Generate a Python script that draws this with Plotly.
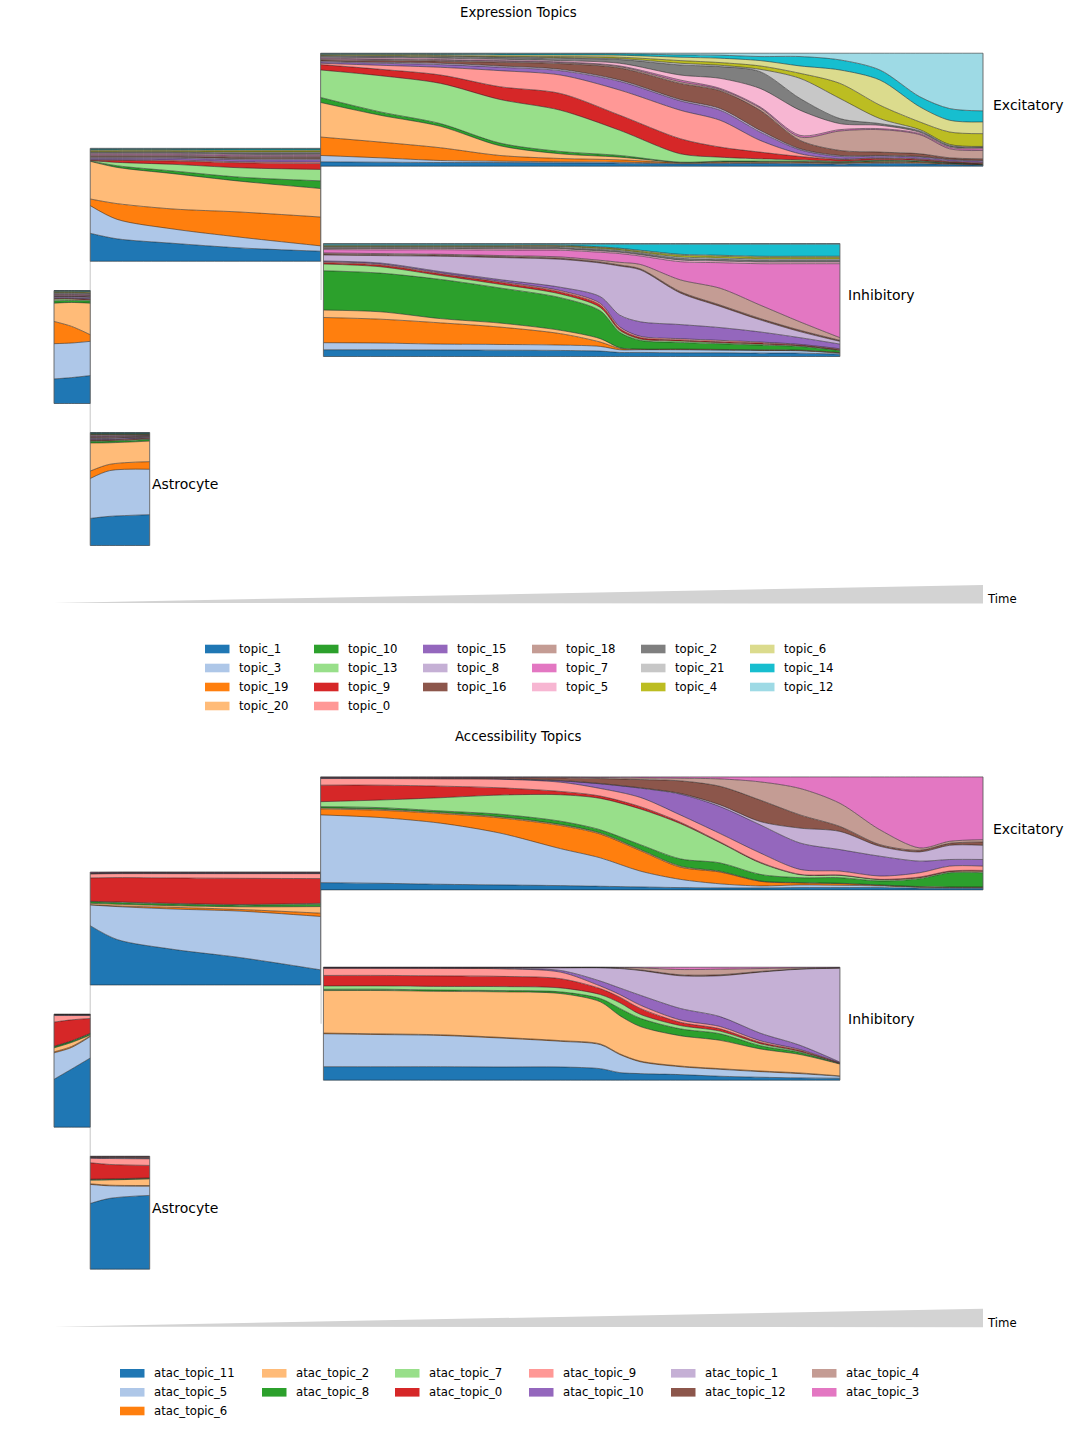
import numpy as np
import plotly.graph_objects as go

FIG_W, FIG_H = 1071, 1430

TAB20 = ["#1f77b4", "#aec7e8", "#ff7f0e", "#ffbb78", "#2ca02c", "#98df8a", "#d62728", "#ff9896",
         "#9467bd", "#c5b0d5", "#8c564b", "#c49c94", "#e377c2", "#f7b6d2", "#7f7f7f", "#c7c7c7",
         "#bcbd22", "#dbdb8d", "#17becf", "#9edae5"]

# ---------------- topics (stacking order, bottom -> top) ----------------
EXPR_TOPICS = ["topic_1", "topic_3", "topic_19", "topic_20", "topic_10", "topic_13", "topic_9",
               "topic_0", "topic_15", "topic_8", "topic_16", "topic_18", "topic_7", "topic_5",
               "topic_2", "topic_21", "topic_4", "topic_6", "topic_14", "topic_12"]
ATAC_TOPICS = ["atac_topic_11", "atac_topic_5", "atac_topic_6", "atac_topic_2", "atac_topic_8",
               "atac_topic_7", "atac_topic_0", "atac_topic_9", "atac_topic_10", "atac_topic_1",
               "atac_topic_12", "atac_topic_4", "atac_topic_3"]

# ---------------- pseudotime sample points per branch ----------------
T_ROOT = [0.000, 0.019, 0.039]
T_TRUNK = [0.039, 0.068, 0.128, 0.200, 0.287]
T_ASTRO = [0.039, 0.060, 0.103]
T_EXC_EXPR = [0.287, 0.351, 0.416, 0.480, 0.545, 0.609, 0.674, 0.717, 0.760, 0.803, 0.846,
              0.889, 0.932, 0.964, 1.000]
T_INH = [0.290, 0.351, 0.416, 0.480, 0.545, 0.588, 0.609, 0.631, 0.674, 0.717, 0.760, 0.803, 0.846]
T_EXC_ATAC = [0.287, 0.351, 0.416, 0.480, 0.545, 0.588, 0.631, 0.674, 0.717, 0.760, 0.803,
              0.846, 0.889, 0.932, 0.964, 1.000]

# ---------------- expression topic weights (rows follow EXPR_TOPICS) ----------------
EXPR_ROOT = [
    [74, 78, 84], [106, 104, 103], [67, 50, 20], [55, 72, 95], [7, 6, 7], [5, 4, 3], [2, 2, 2],
    [1, 1, 1], [3, 3, 4], [2, 2, 2], [2, 2, 2], [2, 2, 2], [2, 2, 2], [2, 2, 2],
    [2, 2, 2], [2, 2, 2], [2, 2, 2], [2, 2, 2], [1, 1, 2], [1, 1, 1],
]
EXPR_TRUNK = [
    [84, 67, 54, 40, 30], [83, 58, 43, 32, 16], [20, 47, 60, 75, 86], [113, 108, 106, 92, 85],
    [1, 5, 8, 12, 23], [1, 10, 20, 28, 34], [1, 6, 10, 15, 18], [2, 2, 3, 3, 4],
    [4, 4, 5, 6, 7], [3, 3, 3, 3, 3], [3, 3, 3, 4, 4], [3, 3, 3, 3, 3], [3, 3, 3, 3, 3],
    [3, 3, 3, 3, 3], [3, 3, 3, 4, 4], [2, 2, 2, 3, 3], [3, 3, 3, 3, 3], [3, 3, 3, 3, 3],
    [2, 2, 2, 3, 3], [2, 2, 2, 2, 2],
]
EXPR_ASTRO = [
    [80, 88, 93], [118, 138, 137], [22, 19, 23], [83, 65, 62], [5, 5, 5], [2, 2, 2], [2, 2, 2],
    [1, 1, 1], [3, 3, 2], [2, 2, 1], [2, 2, 2], [2, 2, 1], [2, 2, 1], [2, 2, 1],
    [2, 2, 2], [1, 1, 1], [1, 1, 1], [1, 1, 1], [2, 2, 2], [1, 1, 1],
]
EXPR_EXC = [
    [13, 12, 11, 11, 10, 9, 7, 7.5, 8, 7, 6, 8, 7, 5, 3],
    [19, 13, 6, 4, 3, 3, 2, 2, 2, 2.5, 2.5, 3, 2.5, 2, 1],
    [55, 47, 38, 17, 10, 7, 1.5, 2.5, 2, 2, 1.5, 2, 2, 1, 0.7],
    [103, 80, 64, 29, 14, 8, 1, 1.5, 1.5, 2, 1.5, 2, 2, 1, 0.7],
    [15, 10, 8, 8, 7, 5, 0.5, 1.5, 1.5, 1.5, 1.5, 2, 1.5, 1, 0.6],
    [82, 108, 120, 130, 123, 75, 25, 12, 7, 4, 2, 2, 2, 1, 1],
    [16, 19, 25, 38, 50, 45, 45, 30, 20, 10, 5, 4, 3, 2, 2],
    [4, 12, 23, 48, 55, 75, 85, 80, 35, 8, 2, 2, 2, 2, 2],
    [4, 6, 8, 10, 13, 26, 28, 30, 25, 12, 7, 5, 5, 4, 4],
    [3, 3, 4, 4, 4, 4, 4, 5, 5, 3, 3, 2, 2, 2, 2],
    [3, 5, 6, 11, 17, 36, 48, 53, 60, 25, 15, 10, 8, 4, 5],
    [3, 3, 3, 3, 3, 4, 5, 4, 7, 10, 58, 67, 57, 27, 25],
    [2, 2, 2, 2, 2, 2, 5, 3, 3, 5, 4, 3, 3, 4, 5],
    [3, 4, 4, 4, 4, 8, 15, 30, 55, 75, 18, 10, 4, 3, 3],
    [3, 3, 4, 5, 7, 11, 30, 35, 50, 35, 15, 5, 4, 3, 2],
    [2, 2, 2, 2, 2, 3, 5, 4, 7, 60, 60, 15, 4, 3, 2],
    [2, 2, 2, 2, 3, 4, 8, 8, 10, 15, 45, 40, 23, 37, 38],
    [2, 2.5, 3, 4, 4.5, 6, 10, 13, 16, 22, 40, 75, 45, 35, 35],
    [1.5, 2, 2.5, 3, 3.5, 4, 7, 9, 12, 28, 30, 30, 30, 35, 33],
    [1.5, 1.5, 1.5, 2, 2, 2, 5, 6, 10, 10, 20, 50, 130, 165, 172],
]
EXPR_INH = [
    [20, 20, 20, 19, 18, 16, 12, 12, 11, 11, 10, 10, 7],
    [21, 20, 18, 17, 16, 14, 8, 8, 9, 8, 8, 7, 3],
    [75, 71, 65, 52, 34, 13, 4, 1, 1, 1, 1, 1, 1],
    [22, 22, 13, 12, 10, 10, 2, 1, 1, 1, 1, 1, 1],
    [117, 115, 120, 105, 97, 83, 46, 26, 20, 17, 14, 11, 6],
    [20, 19, 12, 11, 11, 10, 6, 4, 4, 3, 3, 2, 1],
    [4, 5, 5, 6, 6, 7, 5, 4, 3, 3, 3, 2, 2],
    [3, 3, 3, 3, 4, 5, 5, 4, 4, 4, 3, 2, 2],
    [2, 3, 4, 5, 10, 20, 35, 43, 42, 38, 30, 20, 14],
    [18, 22, 47, 66, 83, 100, 146, 154, 94, 63, 36, 18, 8],
    [3, 3, 3, 3, 3, 3, 3, 3, 4, 4, 4, 4, 3],
    [3, 3, 3, 3, 4, 5, 8, 13, 35, 50, 40, 25, 8],
    [10, 11, 14, 16, 20, 24, 26, 25, 54, 76, 123, 173, 220],
    [3, 4, 4, 4, 4, 4, 4, 4, 5, 5, 5, 5, 5],
    [3, 3, 3, 4, 4, 4, 4, 4, 5, 5, 5, 5, 5],
    [3, 3, 3, 3, 3, 3, 3, 3, 4, 4, 4, 4, 4],
    [2, 2, 2, 2, 2, 3, 3, 3, 5, 5, 5, 5, 5],
    [2, 2, 2, 2, 2, 2, 2, 3, 3, 3, 3, 3, 3],
    [3, 3, 3, 3, 3, 8, 12, 18, 30, 33, 36, 36, 36],
    [2, 2, 2, 2, 2, 2, 2, 2, 2, 2, 2, 2, 2],
]

# ---------------- accessibility topic weights (rows follow ATAC_TOPICS) ----------------
ATAC_ROOT = [
    [145, 175, 210], [80, 65, 65], [3, 3, 2], [12, 12, 3], [4, 4, 4], [1, 1, 1], [73, 63, 45],
    [20, 13, 9], [1, 1, 1], [1, 1, 1], [1, 1, 1], [0.5, 0.5, 0.5], [0.5, 0.5, 0.5],
]
ATAC_TRUNK = [
    [180, 138, 108, 83, 46], [63, 100, 122, 140, 162], [1, 2, 5, 5, 10], [4, 5, 5, 8, 20],
    [5, 5, 5, 5, 7], [1, 2, 2, 2, 3], [71, 74, 77, 79, 75], [12, 12, 13, 14, 15],
    [1, 1, 1, 1, 1], [1, 1, 1, 1, 1], [1, 1, 1, 1, 1], [1, 1, 1, 1, 1], [2, 1, 1, 1, 1],
]
ATAC_ASTRO = [
    [200, 215, 224], [58, 38, 28], [2, 2, 2], [11, 16, 20], [2, 2, 2], [1, 1, 1], [50, 44, 38],
    [14, 18, 20], [1, 1, 1], [1, 2, 2], [2, 2, 3], [1, 1, 1], [1, 1, 1],
]
ATAC_EXC = [
    [22, 20, 17, 15, 13, 11, 9, 7, 6, 6, 7, 7, 7, 5, 5, 5],
    [205, 199, 185, 157, 112, 86, 48, 25, 12, 6, 8, 7, 5, 3, 2, 2],
    [18, 22, 29, 46, 70, 72, 62, 37, 35, 14, 6, 5, 2, 1, 1, 1],
    [3, 3, 3, 3, 3, 3, 3, 3, 2, 1, 1, 1, 1, 1, 1, 1],
    [4, 5, 5, 8, 10, 10, 15, 22, 25, 20, 15, 17, 12, 24, 43, 43],
    [15, 23, 40, 58, 80, 95, 108, 107, 60, 35, 9, 7, 4, 3, 3, 4],
    [50, 45, 35, 22, 10, 7, 7, 4, 2, 2, 1, 1, 1, 2, 2, 3],
    [20, 20, 22, 26, 28, 23, 28, 22, 25, 28, 15, 12, 10, 13, 15, 13],
    [1, 1, 1, 1, 4, 14, 28, 63, 80, 85, 80, 65, 60, 35, 20, 20],
    [1, 1, 1, 1, 1, 1, 1, 2, 5, 10, 45, 55, 30, 28, 43, 43],
    [1, 1, 2, 3, 8, 15, 25, 38, 55, 65, 40, 15, 5, 5, 6, 10],
    [1, 1, 1, 1, 2, 3, 5, 8, 22, 55, 80, 70, 45, 7, 6, 7],
    [1, 1, 1, 1, 1, 2, 3, 4, 6, 15, 35, 80, 160, 215, 195, 190],
]
ATAC_INH = [
    [41, 41, 41, 40, 40, 35, 23, 20, 17, 12, 9, 7, 6],
    [100, 98, 95, 88, 78, 73, 55, 36, 24, 21, 17, 13, 6],
    [2, 2, 2, 2, 2, 2, 2, 2, 2, 2, 2, 2, 1],
    [129, 132, 132, 138, 143, 128, 116, 105, 92, 86, 67, 56, 36],
    [4, 4, 4, 4, 5, 10, 22, 25, 21, 20, 10, 6, 1],
    [10, 10, 11, 12, 12, 12, 17, 12, 10, 8, 6, 3, 1],
    [32, 32, 32, 31, 28, 18, 17, 18, 10, 7, 4, 3, 1],
    [22, 22, 23, 23, 20, 8, 8, 10, 7, 7, 5, 3, 1],
    [0.6, 0.6, 0.8, 1, 5, 15, 20, 30, 35, 30, 23, 13, 2],
    [0.6, 0.6, 0.8, 2, 8, 40, 59, 75, 99, 124, 185, 231, 285],
    [0.6, 0.6, 0.6, 0.6, 0.6, 1, 1, 2, 3, 3, 2, 1, 1],
    [0.6, 0.6, 0.6, 0.6, 0.6, 0.5, 2, 6, 16, 17, 9, 3, 1],
    [0.6, 0.6, 0.6, 0.6, 0.6, 0.5, 1, 2, 7, 6, 4, 2, 1],
]

# ---------------- layout (pixel placement of branches) ----------------
X0_PX, X1_PX = 54, 983
SPAN = X1_PX - X0_PX
BAND_H = 113
PANEL_OFFSET = [0, 723.7]
BRANCH_TOP = {"root": 290.5, "trunk": 148.3, "astro": 432.5, "exc": 53.2, "inh": 243.5}

EDGE = "rgba(25,25,25,0.75)"
EDGE_W = 0.7
SMOOTH = 0.85
TEXT_PAD = 2  # plotly annotation inner padding compensation (px)

fig = go.Figure()


def px2paper_x(px):
    return px / FIG_W


def px2paper_y(py):
    return 1 - py / FIG_H


def add_line(xs, ys, color, width):
    fig.add_trace(go.Scatter(x=xs, y=ys, mode="lines", line=dict(color=color, width=width),
                             hoverinfo="skip", showlegend=False))


def add_stream(t, rows, colors, ytop, height):
    w = np.array(rows, dtype=float)
    frac = w / w.sum(axis=0, keepdims=True)
    cum = np.vstack([np.zeros(w.shape[1]), np.cumsum(frac, axis=0)])
    ybot = ytop + height
    fig.add_trace(go.Scatter(x=t, y=ybot - cum[0] * height, mode="lines",
                             line=dict(color=EDGE, width=EDGE_W, shape="spline", smoothing=SMOOTH),
                             hoverinfo="skip", showlegend=False))
    for i, c in enumerate(colors):
        fig.add_trace(go.Scatter(x=t, y=ybot - cum[i + 1] * height, mode="lines", fill="tonexty",
                                 fillcolor=c,
                                 line=dict(color=EDGE, width=EDGE_W, shape="spline", smoothing=SMOOTH),
                                 hoverinfo="skip", showlegend=False))
    for tt in (t[0], t[-1]):
        add_line([tt, tt], [ytop, ybot], "rgba(90,90,90,0.85)", 1)


panels = [
    dict(title="Expression Topics", topics=EXPR_TOPICS,
         data={"root": (T_ROOT, EXPR_ROOT), "trunk": (T_TRUNK, EXPR_TRUNK),
               "astro": (T_ASTRO, EXPR_ASTRO), "exc": (T_EXC_EXPR, EXPR_EXC),
               "inh": (T_INH, EXPR_INH)}),
    dict(title="Accessibility Topics", topics=ATAC_TOPICS,
         data={"root": (T_ROOT, ATAC_ROOT), "trunk": (T_TRUNK, ATAC_TRUNK),
               "astro": (T_ASTRO, ATAC_ASTRO), "exc": (T_EXC_ATAC, ATAC_EXC),
               "inh": (T_INH, ATAC_INH)}),
]

annotations = []
shapes = []

LEG_EXPR = dict(swatch_x=[205, 314, 423, 532, 641, 750], rows_y=[649, 668, 687, 706])
LEG_ATAC = dict(swatch_x=[120, 262, 395, 529, 671, 812], rows_y=[1373.3, 1392.3, 1411])

for pi, panel in enumerate(panels):
    off = PANEL_OFFSET[pi]
    colors = TAB20[:len(panel["topics"])]
    # branch connectors
    t_a = T_TRUNK[0]
    t_b = T_TRUNK[-1]
    add_line([t_a, t_a], [BRANCH_TOP["trunk"] + BAND_H + off, BRANCH_TOP["astro"] + off], "#cfcfcf", 1.2)
    add_line([t_b + 0.0005, t_b + 0.0005], [BRANCH_TOP["exc"] + BAND_H + off,
                                           BRANCH_TOP["inh"] + BAND_H / 2 + off], "#cfcfcf", 1.2)
    for key in ["root", "trunk", "astro", "exc", "inh"]:
        t, rows = panel["data"][key]
        add_stream(t, rows, colors, BRANCH_TOP[key] + off, BAND_H)

    # time wedge
    fig.add_trace(go.Scatter(x=[0, 1, 1, 0], y=[603 + off, 585 + off, 603.5 + off, 603 + off],
                             mode="lines", fill="toself", fillcolor="#d3d3d3",
                             line=dict(width=0, color="#d3d3d3"), hoverinfo="skip", showlegend=False))
    annotations.append(dict(x=px2paper_x(988 - TEXT_PAD - 1), y=px2paper_y(599 + off), xref="paper",
                            yref="paper", text="Time", showarrow=False, xanchor="left",
                            yanchor="middle", font=dict(size=11.7, color="black")))
    # title
    annotations.append(dict(x=px2paper_x(518), y=px2paper_y(13 + off), xref="paper", yref="paper",
                            text=panel["title"], showarrow=False, xanchor="center", yanchor="middle",
                            font=dict(size=13.3, color="black")))
    # branch labels
    for txt, lx, ly in [("Excitatory", 993, 105), ("Inhibitory", 848, 295), ("Astrocyte", 152, 484)]:
        annotations.append(dict(x=px2paper_x(lx - TEXT_PAD), y=px2paper_y(ly + off), xref="paper",
                                yref="paper", text=txt, showarrow=False, xanchor="left",
                                yanchor="middle", font=dict(size=14, color="black")))
    # legend (column-major like the original)
    leg = LEG_EXPR if pi == 0 else LEG_ATAC
    n = len(panel["topics"])
    ncol = 6
    base = n // ncol
    extra = n % ncol
    idx = 0
    for c in range(ncol):
        nr = base + (1 if c < extra else 0)
        for r in range(nr):
            name = panel["topics"][idx]
            col = colors[idx]
            sx = leg["swatch_x"][c]
            sy = leg["rows_y"][r]
            shapes.append(dict(type="rect", xref="paper", yref="paper",
                               x0=px2paper_x(sx), x1=px2paper_x(sx + 24.5),
                               y0=px2paper_y(sy - 4.3), y1=px2paper_y(sy + 4.3),
                               fillcolor=col, line=dict(width=0)))
            annotations.append(dict(x=px2paper_x(sx + 34 - TEXT_PAD), y=px2paper_y(sy), xref="paper",
                                    yref="paper", text=name, showarrow=False, xanchor="left",
                                    yanchor="middle", font=dict(size=11.7, color="black")))
            idx += 1

fig.update_layout(
    width=FIG_W, height=FIG_H,
    margin=dict(l=0, r=0, t=0, b=0),
    paper_bgcolor="white", plot_bgcolor="white",
    showlegend=False,
    font=dict(family="DejaVu Sans", color="black"),
    xaxis=dict(range=[-X0_PX / SPAN, (FIG_W - X0_PX) / SPAN], visible=False, fixedrange=True),
    yaxis=dict(range=[FIG_H, 0], visible=False, fixedrange=True),
    annotations=annotations,
    shapes=shapes,
)

fig.write_html("out.html", config={"displayModeBar": False})
